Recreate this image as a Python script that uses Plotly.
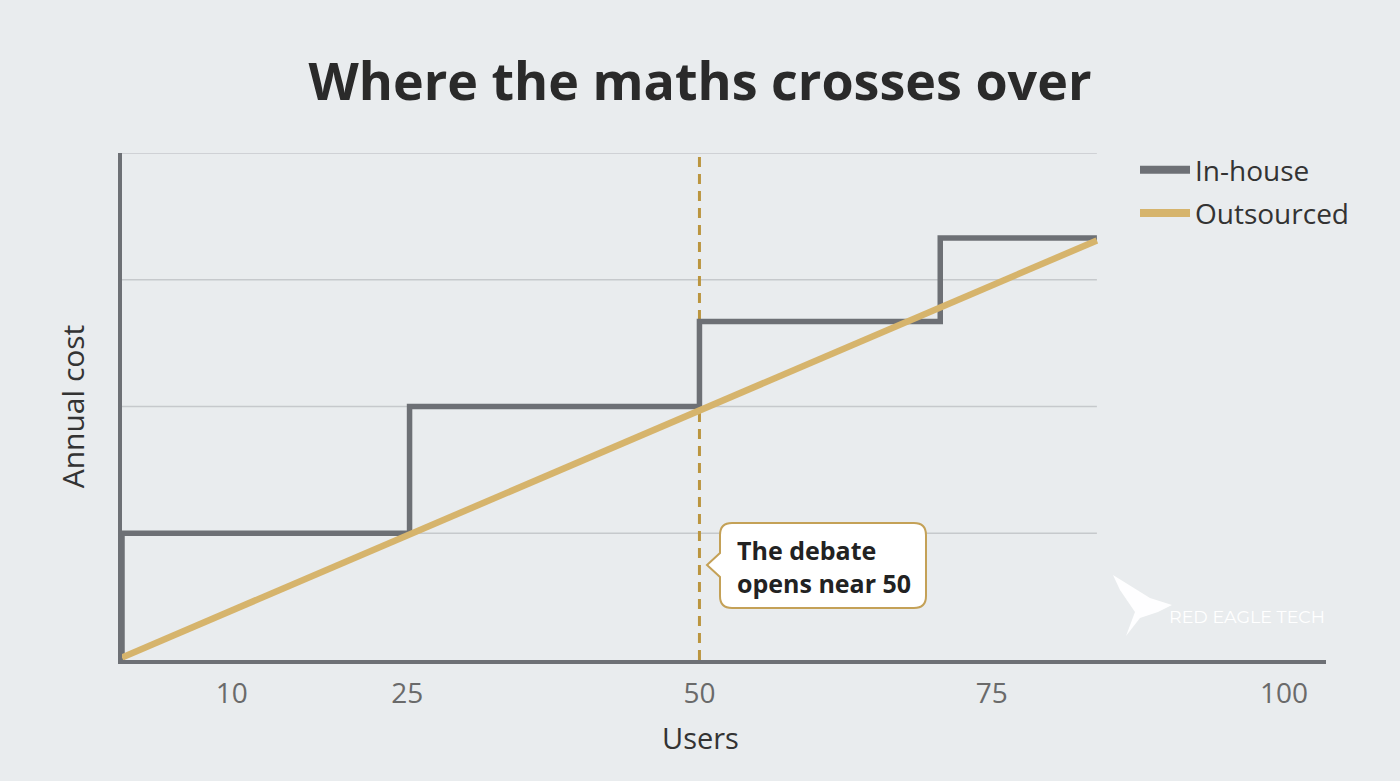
import plotly.graph_objects as go

# ---- data ----
inhouse_users = [0.6, 0.6, 25.2, 50, 70.6, 84]
inhouse_cost = [0, 1, 2, 2.67, 3.33, 3.33]
outsourced_users = [0.6, 84]
outsourced_cost = [0.02, 3.31]
x_ticks = [10, 25, 50, 75, 100]
crossover_users = 50
grid_levels = [1, 2, 3, 4]

BG = "#e9ecee"
GREY = "#6d7075"
GOLD = "#d6b46c"
FONT = "Open Sans"

L, R, T, B = 122, 74, 153, 121
W, H = 1400, 781
pw, ph = W - L - R, H - T - B


def px2paper(px, py):
    return (px - L) / pw, (H - B - py) / ph


def P(px, py):
    a, b = px2paper(px, py)
    return f"{a:.5f},{b:.5f}"


fig = go.Figure()

# gridlines (only over the data span)
for g in grid_levels:
    fig.add_shape(type="line", xref="x", yref="y", x0=inhouse_users[0], x1=inhouse_users[-1],
                  y0=g, y1=g, line=dict(color="#c6c9cc", width=1.5), layer="below")

# crossover dashed line
fig.add_shape(type="line", xref="x", yref="y", x0=crossover_users, x1=crossover_users,
              y0=0, y1=4, line=dict(color="#bb953f", width=3, dash="10px,7px"), layer="below")

fig.add_trace(go.Scatter(x=inhouse_users, y=inhouse_cost, mode="lines", name="In-house",
                         line=dict(color=GREY, width=5.5, shape="hv"), cliponaxis=False,
                         showlegend=False))
fig.add_trace(go.Scatter(x=outsourced_users, y=outsourced_cost, mode="lines", name="Outsourced",
                         line=dict(color=GOLD, width=6.5), cliponaxis=False, showlegend=False))
# legend entries with thicker symbols
fig.add_trace(go.Scatter(x=[None], y=[None], mode="lines", name="In-house", legendgroup="a",
                         line=dict(color=GREY, width=8)))
fig.add_trace(go.Scatter(x=[None], y=[None], mode="lines", name="Outsourced", legendgroup="b",
                         line=dict(color=GOLD, width=8)))

# callout box with rounded corners and pointer
x0, x1, y0, y1, r = 720, 926, 523, 608, 12
tipx, tipy = 707, 565
path = (f"M {P(x0 + r, y0)} L {P(x1 - r, y0)} Q {P(x1, y0)} {P(x1, y0 + r)} "
        f"L {P(x1, y1 - r)} Q {P(x1, y1)} {P(x1 - r, y1)} L {P(x0 + r, y1)} "
        f"Q {P(x0, y1)} {P(x0, y1 - r)} L {P(x0, tipy + 12)} L {P(tipx, tipy)} "
        f"L {P(x0, tipy - 12)} L {P(x0, y0 + r)} Q {P(x0, y0)} {P(x0 + r, y0)} Z")
fig.add_shape(type="path", xref="paper", yref="paper", path=path,
              fillcolor="white", line=dict(color="#c4a157", width=2))
ax, ay = px2paper(735, 566)
fig.add_annotation(xref="paper", yref="paper", x=ax, y=ay, xanchor="left", yanchor="middle",
                   text="<b>The debate<br>opens near 50</b>", showarrow=False, align="left",
                   font=dict(family=FONT, size=25, color="#222222"))

# logo watermark
bird = [(1113, 575), (1150, 598), (1172, 605), (1158, 612), (1140, 618), (1126, 636), (1135, 612), (1120, 590)]
bpath = "M " + " L ".join(P(a, b) for a, b in bird) + " Z"
fig.add_shape(type="path", xref="paper", yref="paper", path=bpath, fillcolor="white",
              line=dict(width=0), opacity=0.95)
lx, ly = px2paper(1167, 616)
fig.add_annotation(xref="paper", yref="paper", x=lx, y=ly, xanchor="left", yanchor="middle",
                   text="RED EAGLE TECH", showarrow=False,
                   font=dict(family="Montserrat, Lato", size=17.5, color="white"))

# x-axis title centred on the page as in the reference
tx, ty = px2paper(700, 737)
fig.add_annotation(xref="paper", yref="paper", x=tx, y=ty, xanchor="center", yanchor="middle",
                   text="Users", showarrow=False, font=dict(family=FONT, size=29, color="#333333"))

fig.update_layout(
    width=W, height=H,
    paper_bgcolor=BG, plot_bgcolor=BG,
    margin=dict(l=L, r=R, t=T, b=B),
    title=dict(text="<b>Where the maths crosses over</b>", x=0.5, xanchor="center",
               y=1 - 82 / H, yref="container", yanchor="middle",
               font=dict(family=FONT, size=52, color="#2a2a2a")),
    font=dict(family=FONT),
    showlegend=True,
    legend=dict(x=(1135 - L) / pw, y=(H - B - 145) / ph, xanchor="left", yanchor="top",
                bgcolor="rgba(0,0,0,0)", font=dict(family=FONT, size=28, color="#333333"),
                tracegroupgap=4, itemwidth=50),
    xaxis=dict(range=[0.6, 103.6], tickvals=x_ticks, ticktext=[str(t) for t in x_ticks],
               showgrid=False, zeroline=False, showline=True, linecolor=GREY, linewidth=4,
               ticks="", ticklabelstandoff=5,
               tickfont=dict(family=FONT, size=28, color="#6a6a6a")),
    yaxis=dict(range=[0, 4], showgrid=False, zeroline=False, showline=True, linecolor=GREY,
               linewidth=4, showticklabels=False, ticks="",
               title=dict(text="Annual cost", standoff=26, font=dict(family=FONT, size=30, color="#333333"))),
)

fig.write_html("out.html")
